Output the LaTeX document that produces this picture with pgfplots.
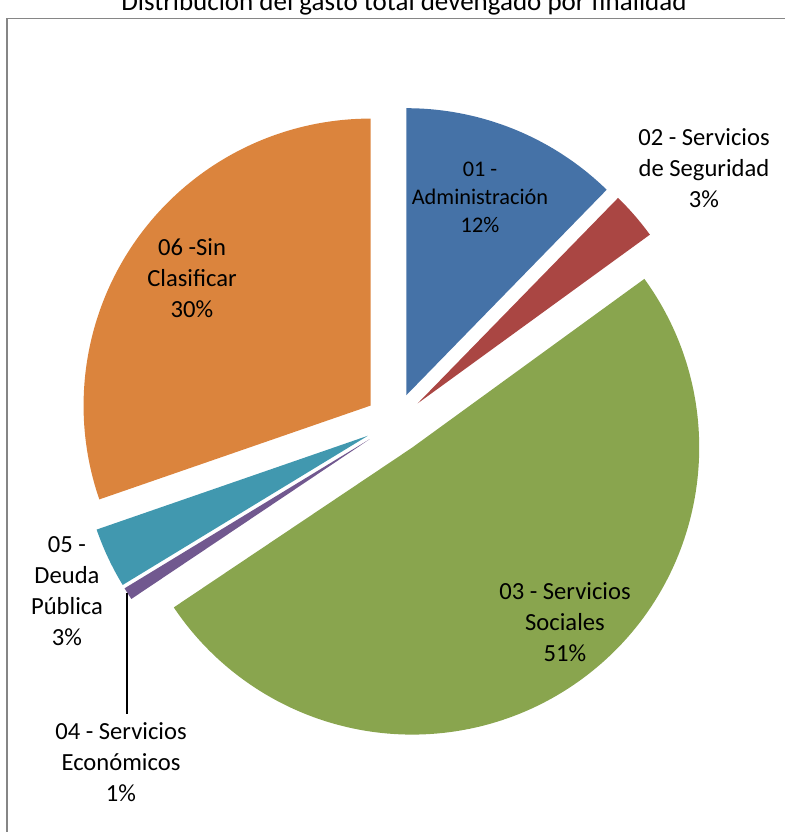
\documentclass[border=0pt]{standalone}
\usepackage{pgfplots}
\usepackage{pgfplotstable}
\pgfplotsset{compat=1.18}
\usepackage{fontspec}
\setmainfont{Carlito}

\definecolor{c0}{HTML}{4572A7}
\definecolor{c1}{HTML}{AA4643}
\definecolor{c2}{HTML}{89A54E}
\definecolor{c3}{HTML}{71588F}
\definecolor{c4}{HTML}{4198AF}
\definecolor{c5}{HTML}{DB843D}
\definecolor{frame}{HTML}{868686}

% share of total spending, per finalidad (%)
\pgfplotstableread{
idx value
0 12.3
1 2.7
2 50.6
3 0.7
4 3.4
5 30.3
}\piedata

% slice angles, clockwise from 12 o'clock
\xdef\cum{0}
\pgfplotstableforeachcolumnelement{value}\of\piedata\as\v{%
  \pgfmathsetmacro\a{90-3.6*\cum}%
  \pgfmathsetmacro\b{90-3.6*(\cum+\v)}%
  \expandafter\xdef\csname sa\pgfplotstablerow\endcsname{\a}%
  \expandafter\xdef\csname sb\pgfplotstablerow\endcsname{\b}%
  \pgfmathsetmacro\c{\cum+\v}\xdef\cum{\c}%
}

\newcommand\lbl{\fontsize{24.6}{31}\selectfont}

\begin{document}
\begin{tikzpicture}
\path[use as bounding box] (0,0) rectangle (784pt,832pt);
\begin{axis}[
  x=1pt, y=1pt,
  xmin=0, xmax=784, ymin=0, ymax=832,
  hide axis, clip=false,
  at={(0,0)}, anchor=south west,
]
% chart frame
\draw[frame, line width=1.5pt] (axis cs:7,-20) -- (axis cs:7,813.5) -- (axis cs:810,813.5);

% exploded slices
\pgfplotsinvokeforeach{0,...,5}{
  \fill[c#1] (axis cs:395,409)
    ++({(\csname sa#1\endcsname+\csname sb#1\endcsname)/2}:30pt)
    -- ++({\csname sa#1\endcsname}:287pt)
    arc[start angle=\csname sa#1\endcsname, end angle=\csname sb#1\endcsname, radius=287pt]
    -- cycle;
}

\draw[black, line width=1.5pt] (axis cs:127,239) -- (axis cs:127,118);

\node[anchor=base, font=\fontsize{27}{33}\selectfont] at (axis cs:404,821) {Distribución del gasto total devengado por finalidad};

\node[align=center, font=\fontsize{22.3}{28}\selectfont] at (axis cs:480,635) {01 -\\Administración\\12\%};
\node[align=center, font=\lbl] at (axis cs:704,664) {02 - Servicios\\de Seguridad\\3\%};
\node[align=center, font=\lbl] at (axis cs:565,210) {03 - Servicios\\Sociales\\51\%};
\node[align=center, font=\lbl] at (axis cs:121,70) {04 - Servicios\\Económicos\\1\%};
\node[align=center, font=\lbl] at (axis cs:67,241) {05 -\\Deuda\\Pública\\3\%};
\node[align=center, font=\lbl] at (axis cs:192,554) {06 -Sin\\Clasificar\\30\%};
\end{axis}
\end{tikzpicture}
\end{document}
